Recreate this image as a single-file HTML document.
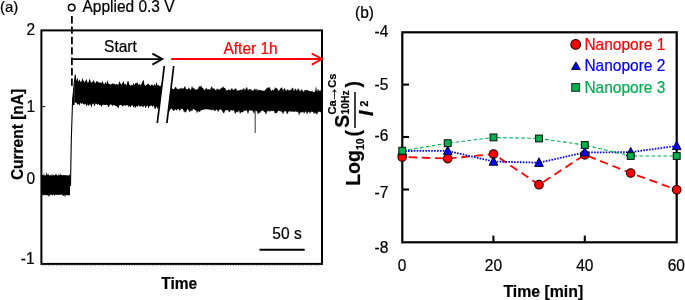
<!DOCTYPE html>
<html><head><meta charset="utf-8"><title>Figure</title>
<style>
html,body{margin:0;padding:0;background:#fff;}
body{width:685px;height:300px;overflow:hidden;}
svg{display:block;}
text{font-family:"Liberation Sans",Arial,sans-serif;}
</style></head><body>
<svg width="685" height="300" viewBox="0 0 685 300">
<rect width="685" height="300" fill="#fff"/>
<!-- panel a -->
<text transform="translate(0,12.2) scale(1.0,1.03)" text-anchor="start" style="font-size:15px;fill:#000;stroke:#000;stroke-width:0.22px;">(a)</text>
<circle cx="71.7" cy="7.6" r="3.3" fill="#fff" stroke="#000" stroke-width="1.5"/>
<text transform="translate(82.5,12.4) scale(1.0,1.03)" text-anchor="start" style="font-size:15.5px;fill:#000;stroke:#000;stroke-width:0.22px;">Applied 0.3 V</text>
<line x1="71.9" y1="16" x2="71.9" y2="86" stroke="#000" stroke-width="1.8" stroke-dasharray="7.4 3"/>
<path d="M42.0,175.2 L42.5,175.1 L43.0,174.9 L43.5,175.5 L44.0,172.8 L44.5,175.5 L45.0,175.5 L45.5,175.2 L46.0,175.1 L46.5,171.4 L47.0,175.3 L47.5,174.6 L48.0,173.4 L48.5,173.9 L49.0,175.5 L49.5,175.5 L50.0,175.5 L50.5,174.5 L51.0,175.5 L51.5,175.5 L52.0,173.1 L52.5,175.4 L53.0,175.5 L53.5,174.6 L54.0,175.5 L54.5,175.3 L55.0,175.0 L55.5,173.9 L56.0,174.7 L56.5,174.1 L57.0,175.6 L57.5,175.4 L58.0,175.5 L58.5,175.0 L59.0,173.9 L59.5,175.2 L60.0,175.0 L60.5,172.8 L61.0,175.5 L61.5,174.8 L62.0,175.1 L62.5,175.5 L63.0,174.7 L63.5,175.3 L64.0,175.2 L64.5,174.9 L65.0,175.5 L65.5,174.7 L66.0,175.2 L66.5,175.6 L67.0,174.8 L67.5,175.4 L68.0,175.4 L68.5,175.2 L69.0,175.4 L69.5,174.1 L70.0,175.5 L70.0,195.7 L69.5,195.1 L69.0,195.6 L68.5,194.8 L68.0,196.0 L67.5,194.8 L67.0,195.2 L66.5,195.0 L66.0,194.7 L65.5,195.4 L65.0,197.6 L64.5,195.1 L64.0,195.8 L63.5,196.0 L63.0,195.5 L62.5,195.4 L62.0,194.8 L61.5,194.6 L61.0,194.6 L60.5,195.3 L60.0,194.9 L59.5,194.7 L59.0,194.6 L58.5,195.2 L58.0,194.6 L57.5,195.1 L57.0,194.8 L56.5,194.9 L56.0,194.7 L55.5,194.8 L55.0,194.7 L54.5,196.5 L54.0,194.8 L53.5,194.8 L53.0,194.7 L52.5,195.8 L52.0,194.8 L51.5,194.7 L51.0,194.7 L50.5,195.1 L50.0,194.7 L49.5,196.6 L49.0,195.5 L48.5,197.0 L48.0,194.6 L47.5,195.7 L47.0,194.8 L46.5,195.7 L46.0,195.0 L45.5,195.0 L45.0,194.6 L44.5,195.1 L44.0,195.2 L43.5,195.3 L43.0,194.7 L42.5,194.7 L42.0,196.1Z" fill="#000"/>
<path d="M70.5,186 L71.3,140 L72.6,100 L73.6,90 L74.4,82 L75.3,74.8 L75.9,84" fill="none" stroke="#000" stroke-width="1.1"/>
<path d="M72.5,105 L72.7,98 L73.7,90 L74.6,83 L74.6,105Z" fill="#000"/>
<path d="M74.5,79.8 L75.5,80.9 L76.5,80.4 L77.5,77.6 L78.5,82.1 L79.5,79.2 L80.5,81.9 L81.5,81.4 L82.5,78.0 L83.5,80.8 L84.5,82.1 L85.5,81.1 L86.5,78.8 L87.5,82.7 L88.5,82.2 L89.5,78.5 L90.5,80.9 L91.5,82.8 L92.5,82.0 L93.5,80.1 L94.5,82.1 L95.5,83.4 L96.5,80.9 L97.5,81.5 L98.5,82.6 L99.5,82.5 L100.5,82.6 L101.5,83.2 L102.5,80.8 L103.5,83.7 L104.5,84.2 L105.5,81.5 L106.5,84.2 L107.5,80.1 L108.5,83.5 L109.5,83.9 L110.5,84.4 L111.5,84.3 L112.5,83.2 L113.5,83.7 L114.5,84.0 L115.5,84.8 L116.5,83.8 L117.5,84.8 L118.5,84.6 L119.5,80.9 L120.5,83.4 L121.5,84.7 L122.5,83.1 L123.5,81.1 L124.5,84.5 L125.5,83.8 L126.5,85.4 L127.5,81.2 L128.5,81.2 L129.5,84.7 L130.5,85.7 L131.5,84.7 L132.5,85.5 L133.5,83.0 L134.5,84.9 L135.5,83.0 L136.5,83.3 L137.5,82.2 L138.5,85.0 L139.5,83.7 L140.5,85.4 L141.5,84.1 L142.5,81.4 L143.5,79.6 L144.5,85.1 L145.5,85.8 L146.5,84.8 L147.5,84.3 L148.5,83.6 L149.5,84.9 L150.5,85.9 L151.5,84.5 L152.5,84.7 L153.5,86.0 L154.5,83.7 L155.5,86.0 L156.5,82.1 L157.5,85.6 L158.5,85.1 L159.5,85.9 L160.5,86.1 L161.5,84.3 L162.5,85.3 L163.5,81.7 L163.5,105.6 L162.5,106.3 L161.5,105.6 L160.5,105.4 L159.5,106.0 L158.5,107.5 L157.5,109.0 L156.5,106.0 L155.5,109.2 L154.5,108.3 L153.5,105.2 L152.5,106.9 L151.5,105.6 L150.5,105.8 L149.5,106.0 L148.5,108.8 L147.5,105.2 L146.5,106.2 L145.5,108.3 L144.5,105.3 L143.5,106.9 L142.5,106.7 L141.5,106.1 L140.5,106.5 L139.5,106.4 L138.5,105.1 L137.5,107.0 L136.5,105.7 L135.5,108.3 L134.5,105.9 L133.5,107.7 L132.5,104.9 L131.5,105.6 L130.5,107.5 L129.5,105.7 L128.5,106.9 L127.5,105.0 L126.5,105.2 L125.5,105.9 L124.5,105.1 L123.5,105.8 L122.5,106.4 L121.5,105.0 L120.5,104.9 L119.5,105.0 L118.5,108.3 L117.5,107.0 L116.5,105.9 L115.5,105.9 L114.5,105.2 L113.5,104.7 L112.5,106.2 L111.5,104.8 L110.5,104.3 L109.5,105.5 L108.5,107.4 L107.5,105.0 L106.5,104.8 L105.5,104.9 L104.5,104.9 L103.5,104.8 L102.5,104.8 L101.5,107.0 L100.5,104.8 L99.5,105.4 L98.5,103.7 L97.5,105.1 L96.5,103.7 L95.5,103.6 L94.5,106.7 L93.5,103.4 L92.5,103.7 L91.5,107.6 L90.5,104.5 L89.5,104.5 L88.5,105.9 L87.5,104.3 L86.5,106.6 L85.5,103.5 L84.5,104.4 L83.5,104.4 L82.5,102.9 L81.5,104.0 L80.5,102.6 L79.5,105.8 L78.5,103.6 L77.5,105.0 L76.5,102.8 L75.5,102.5 L74.5,102.6Z" fill="#000"/>
<path d="M166.0,85.8 L167.0,88.9 L168.0,87.8 L169.0,85.0 L170.0,89.0 L171.0,88.2 L172.0,88.2 L173.0,89.1 L174.0,89.4 L175.0,87.2 L176.0,86.9 L177.0,89.0 L178.0,88.7 L179.0,89.5 L180.0,87.8 L181.0,89.3 L182.0,87.6 L183.0,89.0 L184.0,87.7 L185.0,85.8 L186.0,89.1 L187.0,89.3 L188.0,89.0 L189.0,87.3 L190.0,89.5 L191.0,89.8 L192.0,85.4 L193.0,88.6 L194.0,87.8 L195.0,89.7 L196.0,89.5 L197.0,89.2 L198.0,88.9 L199.0,86.1 L200.0,86.9 L201.0,85.5 L202.0,87.5 L203.0,87.9 L204.0,89.7 L205.0,90.0 L206.0,87.7 L207.0,88.7 L208.0,89.8 L209.0,88.7 L210.0,89.9 L211.0,87.5 L212.0,86.3 L213.0,89.2 L214.0,87.7 L215.0,89.8 L216.0,90.3 L217.0,88.3 L218.0,89.7 L219.0,88.7 L220.0,90.1 L221.0,87.4 L222.0,88.4 L223.0,85.9 L224.0,88.0 L225.0,87.7 L226.0,90.2 L227.0,90.4 L228.0,89.8 L229.0,89.5 L230.0,90.5 L231.0,89.2 L232.0,88.0 L233.0,89.9 L234.0,89.8 L235.0,88.5 L236.0,88.6 L237.0,90.4 L238.0,90.4 L239.0,90.6 L240.0,89.9 L241.0,89.6 L242.0,90.0 L243.0,88.9 L244.0,88.1 L245.0,90.6 L246.0,88.1 L247.0,87.1 L248.0,90.6 L249.0,88.9 L250.0,89.3 L251.0,89.6 L252.0,90.2 L253.0,90.7 L254.0,89.7 L255.0,88.3 L256.0,90.5 L257.0,88.2 L258.0,91.0 L259.0,89.4 L260.0,90.3 L261.0,90.1 L262.0,90.8 L263.0,90.5 L264.0,90.9 L265.0,90.3 L266.0,89.0 L267.0,88.1 L268.0,87.5 L269.0,87.5 L270.0,87.6 L271.0,90.7 L272.0,90.4 L273.0,89.4 L274.0,90.5 L275.0,86.9 L276.0,88.8 L277.0,87.7 L278.0,90.2 L279.0,90.9 L280.0,88.8 L281.0,88.3 L282.0,87.1 L283.0,91.0 L284.0,88.6 L285.0,88.2 L286.0,91.2 L287.0,89.5 L288.0,89.6 L289.0,90.7 L290.0,89.7 L291.0,89.9 L292.0,88.2 L293.0,87.5 L294.0,91.6 L295.0,88.4 L296.0,89.1 L297.0,91.3 L298.0,88.1 L299.0,89.6 L300.0,91.5 L301.0,90.1 L302.0,88.9 L303.0,91.6 L304.0,91.5 L305.0,89.4 L306.0,90.5 L307.0,89.9 L308.0,90.0 L309.0,91.5 L310.0,90.7 L311.0,91.8 L312.0,90.5 L313.0,91.9 L314.0,91.8 L315.0,92.0 L316.0,85.9 L317.0,91.9 L318.0,88.6 L319.0,91.3 L320.0,89.9 L321.0,90.9 L322.0,91.5 L322.0,116.1 L321.0,112.6 L320.0,112.0 L319.0,111.6 L318.0,112.3 L317.0,114.5 L316.0,113.8 L315.0,112.2 L314.0,114.3 L313.0,111.7 L312.0,111.9 L311.0,111.4 L310.0,113.9 L309.0,111.5 L308.0,112.2 L307.0,114.6 L306.0,111.3 L305.0,112.3 L304.0,113.6 L303.0,111.5 L302.0,112.4 L301.0,112.3 L300.0,112.8 L299.0,115.4 L298.0,111.2 L297.0,112.3 L296.0,111.6 L295.0,111.6 L294.0,111.9 L293.0,111.5 L292.0,111.4 L291.0,111.7 L290.0,111.2 L289.0,111.3 L288.0,112.8 L287.0,114.5 L286.0,110.9 L285.0,111.2 L284.0,111.8 L283.0,114.4 L282.0,111.8 L281.0,111.3 L280.0,111.4 L279.0,110.8 L278.0,110.7 L277.0,113.1 L276.0,112.8 L275.0,113.8 L274.0,110.7 L273.0,111.0 L272.0,111.3 L271.0,110.6 L270.0,111.9 L269.0,110.5 L268.0,111.6 L267.0,111.3 L266.0,114.9 L265.0,112.2 L264.0,111.8 L263.0,110.4 L262.0,110.8 L261.0,111.1 L260.0,113.6 L259.0,112.0 L258.0,114.7 L257.0,111.5 L256.0,110.6 L255.0,110.4 L254.0,114.0 L253.0,111.4 L252.0,110.3 L251.0,110.7 L250.0,110.2 L249.0,110.4 L248.0,114.5 L247.0,110.7 L246.0,110.2 L245.0,111.1 L244.0,110.6 L243.0,112.4 L242.0,112.1 L241.0,112.2 L240.0,113.9 L239.0,110.1 L238.0,112.7 L237.0,111.6 L236.0,112.5 L235.0,114.2 L234.0,110.2 L233.0,110.2 L232.0,111.2 L231.0,109.6 L230.0,111.6 L229.0,112.4 L228.0,109.7 L227.0,110.5 L226.0,110.1 L225.0,110.7 L224.0,113.4 L223.0,112.6 L222.0,110.5 L221.0,109.5 L220.0,109.4 L219.0,109.9 L218.0,112.6 L217.0,109.6 L216.0,110.0 L215.0,111.0 L214.0,110.5 L213.0,109.3 L212.0,110.5 L211.0,109.7 L210.0,109.8 L209.0,109.5 L208.0,109.6 L207.0,109.2 L206.0,109.2 L205.0,109.3 L204.0,109.6 L203.0,109.8 L202.0,109.9 L201.0,110.2 L200.0,111.8 L199.0,111.7 L198.0,110.9 L197.0,113.4 L196.0,110.0 L195.0,110.5 L194.0,109.0 L193.0,108.9 L192.0,111.4 L191.0,110.0 L190.0,112.1 L189.0,111.6 L188.0,109.0 L187.0,109.4 L186.0,113.0 L185.0,111.2 L184.0,112.6 L183.0,109.3 L182.0,109.1 L181.0,108.7 L180.0,110.9 L179.0,109.8 L178.0,108.6 L177.0,110.6 L176.0,110.1 L175.0,109.3 L174.0,111.0 L173.0,110.5 L172.0,109.1 L171.0,108.5 L170.0,109.9 L169.0,111.9 L168.0,108.6 L167.0,109.6 L166.0,109.8Z" fill="#000"/>
<path d="M255.2,110 L255.2,133" stroke="#000" stroke-width="0.8" fill="none"/>
<path d="M164.5,66 L173.8,66 L167,123 L157.4,123Z" fill="#fff"/>
<line x1="164.3" y1="66" x2="157.3" y2="123" stroke="#000" stroke-width="1.7"/>
<line x1="173.7" y1="66" x2="166.9" y2="123" stroke="#000" stroke-width="1.7"/>
<rect x="41.4" y="30.4" width="280.6" height="233.5" fill="none" stroke="#000" stroke-width="2"/>
<line x1="42.4" y1="106.6" x2="45.2" y2="106.6" stroke="#000" stroke-width="1"/>
<line x1="43" y1="265.3" x2="321" y2="265.3" stroke="#888" stroke-width="1" stroke-dasharray="1 1.6"/>
<text transform="translate(35,34.6) scale(1.0,1.03)" text-anchor="end" style="font-size:15.5px;fill:#000;stroke:#000;stroke-width:0.22px;">2</text>
<text transform="translate(35,112.2) scale(1.0,1.03)" text-anchor="end" style="font-size:15.5px;fill:#000;stroke:#000;stroke-width:0.22px;">1</text>
<text transform="translate(35.2,184.2) scale(1.0,1.03)" text-anchor="end" style="font-size:15.5px;fill:#000;stroke:#000;stroke-width:0.22px;">0</text>
<text transform="translate(34.6,263.6) scale(1.0,1.03)" text-anchor="end" style="font-size:15.5px;fill:#000;stroke:#000;stroke-width:0.22px;">-1</text>
<line x1="71" y1="59.1" x2="161.6" y2="59.1" stroke="#000" stroke-width="1.8"/>
<path d="M152.4,53.6 L162.4,59.1 L152.4,64.6" fill="none" stroke="#000" stroke-width="1.8"/>
<text transform="translate(120.4,52.3) scale(1.0,1.03)" text-anchor="middle" style="font-size:15.5px;fill:#000;stroke:#000;stroke-width:0.22px;">Start</text>
<text transform="translate(250.6,53.8) scale(1.0,1.03)" text-anchor="middle" style="font-size:15.5px;fill:#ff0000;stroke:#ff0000;stroke-width:0.22px;">After 1h</text>
<text transform="translate(287,239.3) scale(1.0,1.03)" text-anchor="middle" style="font-size:15.5px;fill:#000;stroke:#000;stroke-width:0.22px;">50 s</text>
<line x1="259.5" y1="249.7" x2="304.7" y2="249.7" stroke="#000" stroke-width="2"/>
<text transform="translate(179.3,289.4) scale(1.0,1.03)" text-anchor="middle" style="font-size:15.5px;fill:#000;stroke:#000;stroke-width:0.2px;font-weight:bold;">Time</text>
<text transform="translate(22.7,134.5) rotate(-90) scale(1.0,1.03)" text-anchor="middle" style="font-size:15.5px;fill:#000;stroke:#000;stroke-width:0.2px;font-weight:bold;">Current [nA]</text>
<line x1="171.2" y1="59" x2="321.4" y2="59" stroke="#ff0000" stroke-width="1.8"/>
<path d="M311.8,53.6 L322,59 L311.8,64.6" fill="none" stroke="#ff0000" stroke-width="1.8"/>
<!-- panel b -->
<text transform="translate(355,17.8) scale(1.0,1.03)" text-anchor="start" style="font-size:15.5px;fill:#000;stroke:#000;stroke-width:0.22px;">(b)</text>
<rect x="402.3" y="32.3" width="274.4" height="210" fill="none" stroke="#000" stroke-width="2.2"/>
<g stroke="#000" stroke-width="2.1">
<line x1="402.3" y1="84.6" x2="409" y2="84.6"/>
<line x1="402.3" y1="137" x2="409" y2="137"/>
<line x1="402.3" y1="189.5" x2="409" y2="189.5"/>
<line x1="493.4" y1="242.3" x2="493.4" y2="235.6"/>
<line x1="584.8" y1="242.3" x2="584.8" y2="235.6"/>
</g>
<text transform="translate(388.3,36.6) scale(1.0,1.03)" text-anchor="end" style="font-size:15.5px;fill:#000;stroke:#000;stroke-width:0.22px;">-4</text>
<text transform="translate(388.3,89.8) scale(1.0,1.03)" text-anchor="end" style="font-size:15.5px;fill:#000;stroke:#000;stroke-width:0.22px;">-5</text>
<text transform="translate(388.3,140.9) scale(1.0,1.03)" text-anchor="end" style="font-size:15.5px;fill:#000;stroke:#000;stroke-width:0.22px;">-6</text>
<text transform="translate(388.3,197.5) scale(1.0,1.03)" text-anchor="end" style="font-size:15.5px;fill:#000;stroke:#000;stroke-width:0.22px;">-7</text>
<text transform="translate(388.3,252.6) scale(1.0,1.03)" text-anchor="end" style="font-size:15.5px;fill:#000;stroke:#000;stroke-width:0.22px;">-8</text>
<text transform="translate(402,271) scale(1.0,1.03)" text-anchor="middle" style="font-size:15.5px;fill:#000;stroke:#000;stroke-width:0.22px;">0</text>
<text transform="translate(493.4,271) scale(1.0,1.03)" text-anchor="middle" style="font-size:15.5px;fill:#000;stroke:#000;stroke-width:0.22px;">20</text>
<text transform="translate(584.8,271) scale(1.0,1.03)" text-anchor="middle" style="font-size:15.5px;fill:#000;stroke:#000;stroke-width:0.22px;">40</text>
<text transform="translate(676.3,271) scale(1.0,1.03)" text-anchor="middle" style="font-size:15.5px;fill:#000;stroke:#000;stroke-width:0.22px;">60</text>
<text transform="translate(543.3,296.5) scale(1.0,1.03)" text-anchor="middle" style="font-size:15.85px;fill:#000;stroke:#000;stroke-width:0.2px;font-weight:bold;">Time [min]</text>
<text transform="translate(360,185.8) rotate(-90) scale(1.0,1.04)" text-anchor="start" style="font-size:19.5px;fill:#000;stroke:#000;stroke-width:0.2px;font-weight:bold;">Log</text>
<text transform="translate(364.4,150) rotate(-90) scale(1.0,1.04)" text-anchor="start" style="font-size:10.5px;fill:#000;stroke:#000;stroke-width:0.2px;font-weight:bold;">10</text>
<text transform="translate(360,136.5) rotate(-90) scale(1.0,1.04)" text-anchor="start" style="font-size:19.5px;fill:#000;stroke:#000;stroke-width:0.2px;font-weight:bold;">(</text>
<text transform="translate(348.6,127.8) rotate(-90) scale(1.0,1.04)" text-anchor="start" style="font-size:19.5px;fill:#000;stroke:#000;stroke-width:0.2px;font-weight:bold;">S</text>
<text transform="translate(336,114.5) rotate(-90) scale(1.0,1.04)" text-anchor="start" style="font-size:11px;fill:#000;stroke:#000;stroke-width:0.2px;font-weight:bold;">Ca</text>
<text transform="translate(336.9,102.4) rotate(-90) scale(0.98,0.9)" text-anchor="start" style="font-size:17px;fill:#000;stroke:#000;stroke-width:0.3px;font-weight:bold;">→</text>
<text transform="translate(336,87.8) rotate(-90) scale(1.0,1.04)" text-anchor="start" style="font-size:11px;fill:#000;stroke:#000;stroke-width:0.2px;font-weight:bold;">Cs</text>
<text transform="translate(349,114.5) rotate(-90) scale(1.0,1.04)" text-anchor="start" style="font-size:10.3px;fill:#000;stroke:#000;stroke-width:0.2px;font-weight:bold;">10Hz</text>
<line x1="355" y1="128" x2="355" y2="92" stroke="#000" stroke-width="1.5"/>
<text transform="translate(373,116) rotate(-90) scale(1.0,1.04)" text-anchor="start" style="font-size:19.5px;fill:#000;stroke:#000;stroke-width:0.2px;font-weight:bold;font-style:italic;">I</text>
<text transform="translate(368,106.8) rotate(-90) scale(1.0,1.04)" text-anchor="start" style="font-size:11px;fill:#000;stroke:#000;stroke-width:0.2px;font-weight:bold;">2</text>
<text transform="translate(360,87.6) rotate(-90) scale(1.0,1.04)" text-anchor="start" style="font-size:19.5px;fill:#000;stroke:#000;stroke-width:0.2px;font-weight:bold;">)</text>
<polyline points="402.2,157 447.7,158.6 493.5,154 539,184.7 584.8,154.8 630.7,173 676.7,189.8" fill="none" stroke="#ff0000" stroke-width="1.8" stroke-dasharray="8.4 4.8" stroke-dashoffset="-6.4"/>
<polyline points="402.2,151 447.7,150.9 493.5,161.5 539,162.7 584.8,152.4 630.7,152.2 676.7,145.9" fill="none" stroke="#0000ff" stroke-width="1.8" stroke-dasharray="1.6 1.3"/>
<polyline points="402.2,150.8 447.7,143.2 493.5,137.4 539,138.5 584.8,145.0 630.7,156.0 676.7,156.0" fill="none" stroke="#00b050" stroke-width="1.1" stroke-dasharray="3.6 2.4"/>
<circle cx="402.2" cy="157" r="4.3" fill="#ff0000" stroke="#200" stroke-width="1.1"/>
<circle cx="447.7" cy="158.6" r="4.3" fill="#ff0000" stroke="#200" stroke-width="1.1"/>
<circle cx="493.5" cy="154" r="4.3" fill="#ff0000" stroke="#200" stroke-width="1.1"/>
<circle cx="539" cy="184.7" r="4.3" fill="#ff0000" stroke="#200" stroke-width="1.1"/>
<circle cx="584.8" cy="154.8" r="4.3" fill="#ff0000" stroke="#200" stroke-width="1.1"/>
<circle cx="630.7" cy="173" r="4.3" fill="#ff0000" stroke="#200" stroke-width="1.1"/>
<circle cx="676.7" cy="189.8" r="4.3" fill="#ff0000" stroke="#200" stroke-width="1.1"/>
<path d="M397.9,154.7 L406.5,154.7 L402.2,146.1Z" fill="#0000ff" stroke="#002" stroke-width="1" stroke-linejoin="miter"/>
<path d="M443.4,154.6 L452.0,154.6 L447.7,146.0Z" fill="#0000ff" stroke="#002" stroke-width="1" stroke-linejoin="miter"/>
<path d="M489.2,165.2 L497.8,165.2 L493.5,156.6Z" fill="#0000ff" stroke="#002" stroke-width="1" stroke-linejoin="miter"/>
<path d="M534.7,166.4 L543.3,166.4 L539.0,157.8Z" fill="#0000ff" stroke="#002" stroke-width="1" stroke-linejoin="miter"/>
<path d="M580.5,156.1 L589.1,156.1 L584.8,147.5Z" fill="#0000ff" stroke="#002" stroke-width="1" stroke-linejoin="miter"/>
<path d="M626.4,155.9 L635.0,155.9 L630.7,147.3Z" fill="#0000ff" stroke="#002" stroke-width="1" stroke-linejoin="miter"/>
<path d="M672.4,149.6 L681.0,149.6 L676.7,141.0Z" fill="#0000ff" stroke="#002" stroke-width="1" stroke-linejoin="miter"/>
<rect x="398.8" y="147.4" width="6.8" height="6.8" fill="#00b050" stroke="#0a2010" stroke-width="1.1"/>
<rect x="444.3" y="139.8" width="6.8" height="6.8" fill="#00b050" stroke="#0a2010" stroke-width="1.1"/>
<rect x="490.1" y="134.0" width="6.8" height="6.8" fill="#00b050" stroke="#0a2010" stroke-width="1.1"/>
<rect x="535.6" y="135.1" width="6.8" height="6.8" fill="#00b050" stroke="#0a2010" stroke-width="1.1"/>
<rect x="581.4" y="141.6" width="6.8" height="6.8" fill="#00b050" stroke="#0a2010" stroke-width="1.1"/>
<rect x="627.3" y="152.6" width="6.8" height="6.8" fill="#00b050" stroke="#0a2010" stroke-width="1.1"/>
<rect x="673.3" y="152.6" width="6.8" height="6.8" fill="#00b050" stroke="#0a2010" stroke-width="1.1"/>
<circle cx="575.7" cy="44.4" r="4.85" fill="#ff0000" stroke="#200" stroke-width="1.1"/>
<text transform="translate(584.4,49.7) scale(1.0,1.03)" text-anchor="start" style="font-size:15.5px;fill:#ff0000;stroke:#ff0000;stroke-width:0.22px;">Nanopore 1</text>
<path d="M571.5,69.5 L580.3,69.5 L575.9,61.9Z" fill="#0000ff" stroke="#002" stroke-width="0.9"/>
<text transform="translate(584.4,71) scale(1.0,1.03)" text-anchor="start" style="font-size:15.5px;fill:#0000ff;stroke:#0000ff;stroke-width:0.22px;">Nanopore 2</text>
<rect x="571.7" y="83.6" width="7.9" height="7.7" fill="#00b050" stroke="#1c2a20" stroke-width="1"/>
<text transform="translate(584.4,92.6) scale(1.0,1.03)" text-anchor="start" style="font-size:15.5px;fill:#00b050;stroke:#00b050;stroke-width:0.22px;">Nanopore 3</text>
</svg>
</body></html>
